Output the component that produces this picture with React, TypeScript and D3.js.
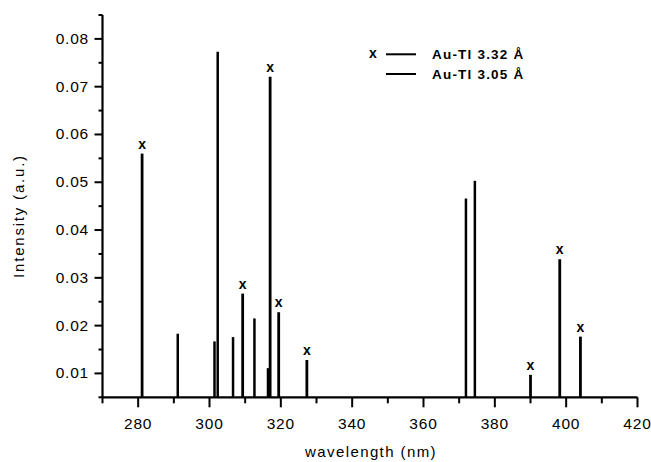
import React from "react";
import * as d3 from "d3";

// Au-Tl 3.32 Å lines (marked with "x")
const wl332 = [281.1, 309.3, 317.0, 319.4, 327.3, 390.0, 398.2, 404.0];
const int332 = [0.056, 0.0267, 0.0721, 0.0228, 0.0128, 0.0097, 0.0339, 0.0177];
// Au-Tl 3.05 Å lines
const wl305 = [291.1, 301.4, 302.3, 306.6, 312.6, 316.4, 371.9, 374.4];
const int305 = [0.0183, 0.0167, 0.0773, 0.0176, 0.0215, 0.0111, 0.0466, 0.0503];

const xTicks = [280, 300, 320, 340, 360, 380, 400, 420];
const yTicks = [0.01, 0.02, 0.03, 0.04, 0.05, 0.06, 0.07, 0.08];
const legendLabels = ["Au-Tl 3.32 Å", "Au-Tl 3.05 Å"];

const W = 651;
const H = 462;

export default function App() {
  const x = d3.scaleLinear().domain([270, 420]).range([102.5, 637.5]);
  const y = d3.scaleLinear().domain([0.005, 0.085]).range([397.3, 15]);
  const xMinor = d3.range(270, 421, 10);
  const yMinor = d3.range(0.005, 0.0851, 0.005);
  const font = "'Liberation Sans', Arial, sans-serif";
  const y0 = y(0.005);

  return (
    <svg width={W} height={H} style={{ position: "absolute", left: 0, top: 0, background: "#fff" }}>
      <rect width={W} height={H} fill="#fff" />
      {/* bars */}
      {wl305.map((w, i) => (
        <line key={"b" + i} x1={x(w)} x2={x(w)} y1={y0} y2={y(int305[i])} stroke="#000" strokeWidth={2.5} />
      ))}
      {wl332.map((w, i) => (
        <g key={"a" + i}>
          <line x1={x(w)} x2={x(w)} y1={y0} y2={y(int332[i])} stroke="#000" strokeWidth={2.8} />
          <text x={x(w)} y={y(int332[i]) - 5} textAnchor="middle" fontFamily={font} fontWeight="bold" fontSize={14}>
            x
          </text>
        </g>
      ))}
      {/* axes */}
      <line x1={x(270)} x2={x(420)} y1={y0} y2={y0} stroke="#000" strokeWidth={2.2} />
      <line x1={x(270)} x2={x(270)} y1={y0} y2={y(0.085)} stroke="#000" strokeWidth={2.2} />
      {xMinor.map((t) => (
        <line key={"xm" + t} x1={x(t)} x2={x(t)} y1={y0} y2={y0 + (t % 20 === 0 ? 10 : 6)} stroke="#000" strokeWidth={2} />
      ))}
      {yMinor.map((t, i) => (
        <line key={"ym" + i} x1={x(270)} x2={x(270) - (i % 2 === 1 ? 8 : 4)} y1={y(t)} y2={y(t)} stroke="#000" strokeWidth={2} />
      ))}
      {xTicks.map((t) => (
        <text key={"xt" + t} x={x(t)} y={429} textAnchor="middle" fontFamily={font} fontSize={15.5} letterSpacing={0.8}>
          {t}
        </text>
      ))}
      {yTicks.map((t) => (
        <text key={"yt" + t} x={89} y={y(t) + 5} textAnchor="end" fontFamily={font} fontSize={15.5} letterSpacing={0.8}>
          {t.toFixed(2)}
        </text>
      ))}
      <text x={371} y={457} textAnchor="middle" fontFamily={font} fontSize={15} letterSpacing={1.4}>
        wavelength (nm)
      </text>
      <text transform={`translate(24,${216}) rotate(-90)`} textAnchor="middle" fontFamily={font} fontSize={15} letterSpacing={1.8}>
        Intensity (a.u.)
      </text>
      {/* legend */}
      <text x={373} y={58} textAnchor="middle" fontFamily={font} fontWeight="bold" fontSize={14}>x</text>
      <line x1={386} x2={416} y1={54.3} y2={54.3} stroke="#000" strokeWidth={2} />
      <text x={432} y={58.5} fontFamily={font} fontWeight="bold" fontSize={13.5} letterSpacing={1.2}>
        {legendLabels[0]}
      </text>
      <line x1={386} x2={416} y1={74} y2={74} stroke="#000" strokeWidth={2} />
      <text x={432} y={78.5} fontFamily={font} fontWeight="bold" fontSize={13.5} letterSpacing={1.2}>
        {legendLabels[1]}
      </text>
    </svg>
  );
}
